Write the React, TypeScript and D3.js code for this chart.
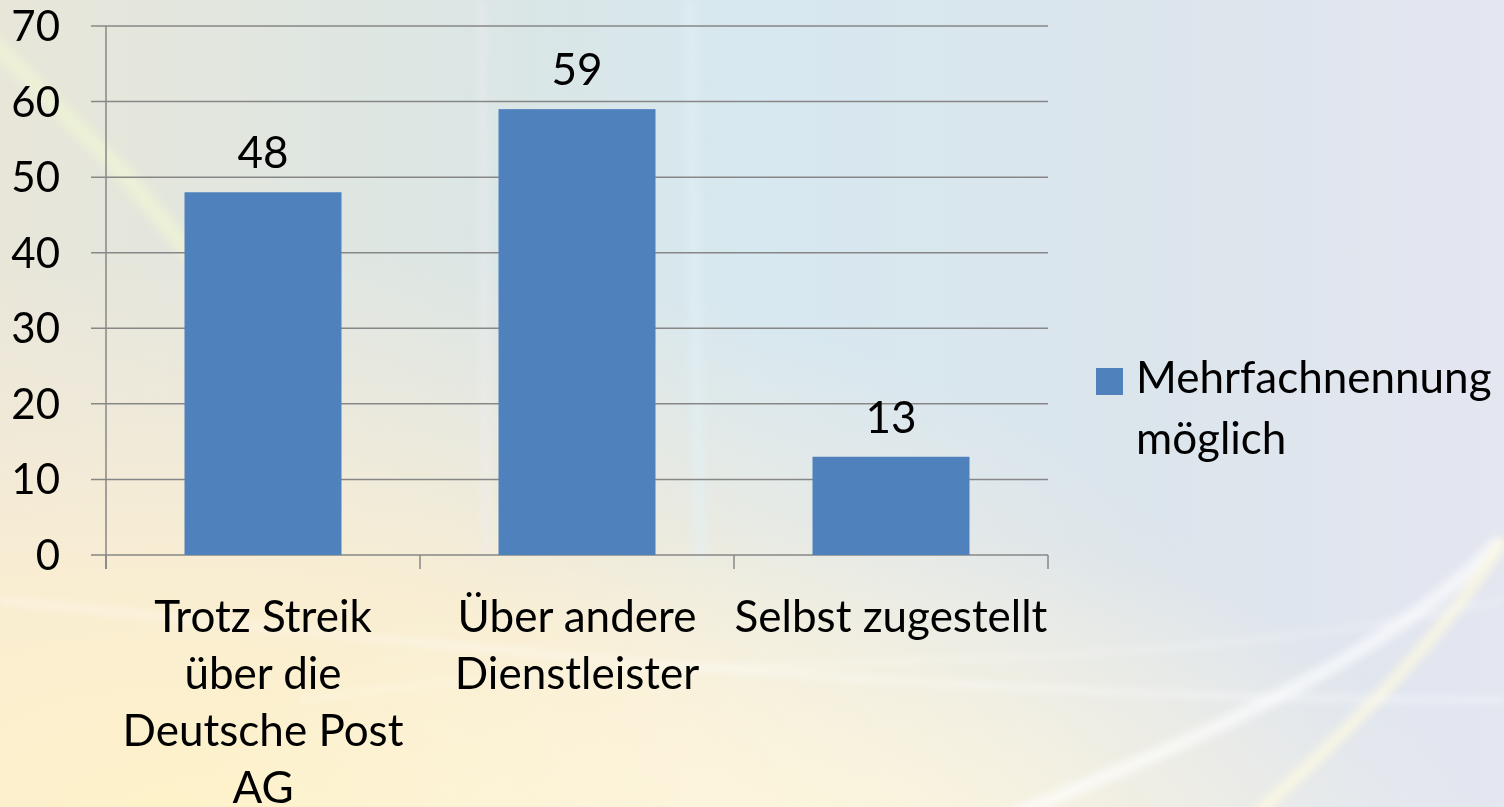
import React, { useEffect, useRef } from "react";
import { select, scaleBand, scaleLinear, range } from "d3";

// chart data
const categories = ["Trotz Streik über die Deutsche Post AG", "Über andere Dienstleister", "Selbst zugestellt"];
const categoryLines = [
  ["Trotz Streik", "über die", "Deutsche Post", "AG"],
  ["Über andere", "Dienstleister"],
  ["Selbst zugestellt"]
];
const values = [48, 59, 13];
const yTicks = [0, 10, 20, 30, 40, 50, 60, 70];
const seriesName = ["Mehrfachnennung", "möglich"];

const W = 1504;
const H = 807;
const FONT = "Lato, 'Open Sans', sans-serif";
const FS = 44;
const BAR = "#4f81bd";
const GRID = "#878787";

function App() {
  const svgRef = useRef<SVGSVGElement>(null);

  useEffect(() => {
    document.body.style.margin = "0";
    document.body.style.overflow = "hidden";

    const svg = select(svgRef.current).attr("width", W).attr("height", H);
    svg.selectAll("*").remove();

    // background
    const defs = svg.append("defs");
    const base = defs.append("linearGradient").attr("id", "bg").attr("x1", 0).attr("y1", 0).attr("x2", 1).attr("y2", 0);
    [["0%", "#e8e6d9"], ["35%", "#dae6e6"], ["50%", "#d7e8f0"], ["75%", "#dbe5ec"], ["100%", "#e4e6f0"]]
      .forEach(([o, c]) => base.append("stop").attr("offset", o).attr("stop-color", c));
    const warm = defs.append("radialGradient").attr("id", "warm")
      .attr("cx", 0.15).attr("cy", 1.05).attr("r", 0.75);
    warm.append("stop").attr("offset", "0%").attr("stop-color", "#fff3c8").attr("stop-opacity", 1);
    warm.append("stop").attr("offset", "45%").attr("stop-color", "#fdefd0").attr("stop-opacity", 0.85);
    warm.append("stop").attr("offset", "100%").attr("stop-color", "#fbecdc").attr("stop-opacity", 0);
    const warm2 = defs.append("radialGradient").attr("id", "warm2")
      .attr("cx", 0.55).attr("cy", 1.1).attr("r", 0.45);
    warm2.append("stop").attr("offset", "0%").attr("stop-color", "#fff8dc").attr("stop-opacity", 0.9);
    warm2.append("stop").attr("offset", "100%").attr("stop-color", "#fff8e6").attr("stop-opacity", 0);
    defs.append("filter").attr("id", "blur").append("feGaussianBlur").attr("stdDeviation", 4);

    svg.append("rect").attr("width", W).attr("height", H).attr("fill", "url(#bg)");
    svg.append("rect").attr("width", W).attr("height", H).attr("fill", "url(#warm)");
    svg.append("rect").attr("width", W).attr("height", H).attr("fill", "url(#warm2)");

    const deco = svg.append("g").attr("filter", "url(#blur)").attr("fill", "none");
    deco.append("path").attr("d", "M-20,30 L120,170 L230,300").attr("stroke", "#f2f7d4").attr("stroke-width", 18).attr("opacity", 0.6);
    deco.append("path").attr("d", "M482,0 L486,560").attr("stroke", "#f2eef6").attr("stroke-width", 6).attr("opacity", 0.6);
    deco.append("path").attr("d", "M690,0 L700,560").attr("stroke", "#e4f2fa").attr("stroke-width", 12).attr("opacity", 0.5);
    deco.append("path").attr("d", "M1000,820 C1200,740 1400,650 1500,540").attr("stroke", "#ffffff").attr("stroke-width", 14).attr("opacity", 0.6);
    deco.append("path").attr("d", "M1250,820 C1360,720 1440,640 1504,540").attr("stroke", "#fffbe0").attr("stroke-width", 12).attr("opacity", 0.7);
    deco.append("path").attr("d", "M0,600 C400,640 900,700 1504,700").attr("stroke", "#ffffff").attr("stroke-width", 5).attr("opacity", 0.5);
    deco.append("path").attr("d", "M300,700 C700,640 1100,690 1504,600").attr("stroke", "#ffffff").attr("stroke-width", 4).attr("opacity", 0.4);

    // scales
    const x = scaleBand().domain(categories).range([106, 1048]).paddingInner(0.5).paddingOuter(0.25);
    const y = scaleLinear().domain([0, 70]).range([555, 26]);
    const step = x.step();

    // grid + y ticks
    svg.append("g").selectAll("line").data(yTicks).join("line")
      .attr("x1", 91).attr("x2", 1048)
      .attr("y1", d => y(d)).attr("y2", d => y(d))
      .attr("stroke", GRID).attr("stroke-width", 1.5);

    svg.append("line").attr("x1", 106).attr("x2", 106).attr("y1", y(70)).attr("y2", 569)
      .attr("stroke", GRID).attr("stroke-width", 1.5);

    svg.append("g").selectAll("line").data(range(categories.length + 1)).join("line")
      .attr("x1", i => 106 + i * step).attr("x2", i => 106 + i * step)
      .attr("y1", y(0)).attr("y2", 569)
      .attr("stroke", GRID).attr("stroke-width", 1.5);

    svg.append("g").selectAll("text").data(yTicks).join("text")
      .attr("x", 60).attr("y", d => y(d) + 15)
      .attr("text-anchor", "end")
      .attr("font-family", FONT).attr("font-size", 42).attr("fill", "#000")
      .text(d => d);

    // bars
    svg.append("g").selectAll("rect").data(values).join("rect")
      .attr("x", (d, i) => x(categories[i]))
      .attr("y", d => y(d))
      .attr("width", x.bandwidth())
      .attr("height", d => y(0) - y(d))
      .attr("fill", BAR);

    svg.append("g").selectAll("text").data(values).join("text")
      .attr("x", (d, i) => x(categories[i]) + x.bandwidth() / 2)
      .attr("y", d => y(d) - 24)
      .attr("text-anchor", "middle")
      .attr("font-family", FONT).attr("font-size", FS).attr("fill", "#000")
      .text(d => d);

    // category labels
    const cat = svg.append("g").selectAll("text").data(categoryLines).join("text")
      .attr("text-anchor", "middle")
      .attr("font-family", FONT).attr("font-size", FS).attr("fill", "#000");
    cat.each(function (lines, i) {
      select(this).selectAll("tspan").data(lines).join("tspan")
        .attr("x", x(categories[i]) + x.bandwidth() / 2)
        .attr("y", (l, j) => 632 + j * 57)
        .text(l => l);
    });

    // legend
    svg.append("rect").attr("x", 1096).attr("y", 368).attr("width", 27).attr("height", 27).attr("fill", BAR);
    svg.append("text").attr("font-family", FONT).attr("font-size", FS).attr("fill", "#000")
      .selectAll("tspan").data(seriesName).join("tspan")
      .attr("x", 1136).attr("y", (d, i) => 393 + i * 61)
      .text(d => d);
  }, []);

  return (
    <div>
      <svg ref={svgRef} style={{ display: "block" }}></svg>
    </div>
  );
}

export default App;
